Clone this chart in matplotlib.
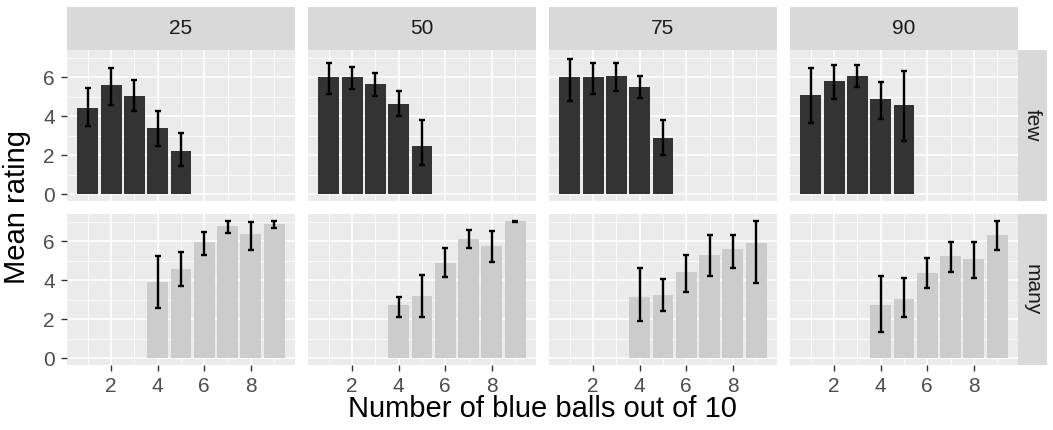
import numpy as np
import matplotlib
matplotlib.use("Agg")
import matplotlib.pyplot as plt

plt.rcParams['font.family'] = ['Liberation Sans', 'DejaVu Sans']

# -------------------- DATA --------------------
percents = ["25", "50", "75", "90"]
groups = ["few", "many"]

x_few = [1, 2, 3, 4, 5]
x_many = [4, 5, 6, 7, 8, 9]

# mean rating, lower and upper error bar, per percent column
few_mean = {
    "25": [4.43, 5.61, 5.04, 3.40, 2.22],
    "50": [6.02, 6.02, 5.68, 4.63, 2.48],
    "75": [6.02, 6.02, 6.07, 5.50, 2.89],
    "90": [5.09, 5.81, 6.07, 4.89, 4.58],
}
few_lo = {
    "25": [3.50, 4.60, 4.29, 2.48, 1.45],
    "50": [5.16, 5.40, 5.06, 4.00, 1.49],
    "75": [4.80, 5.16, 5.32, 4.92, 2.00],
    "90": [3.64, 4.91, 5.50, 3.86, 2.74],
}
few_hi = {
    "25": [5.44, 6.48, 5.85, 4.29, 3.13],
    "50": [6.77, 6.56, 6.22, 5.28, 3.79],
    "75": [6.94, 6.75, 6.72, 6.10, 3.83],
    "90": [6.51, 6.62, 6.62, 5.79, 6.32],
}
many_mean = {
    "25": [3.90, 4.56, 5.95, 6.82, 6.36, 6.92],
    "50": [2.72, 3.18, 4.87, 6.15, 5.79, 7.04],
    "75": [3.13, 3.23, 4.41, 5.28, 5.59, 5.90],
    "90": [2.72, 3.03, 4.36, 5.23, 5.08, 6.31],
}
many_lo = {
    "25": [2.56, 3.69, 5.33, 6.44, 5.54, 6.70],
    "50": [2.14, 2.09, 4.17, 5.66, 4.96, 7.01],
    "75": [1.91, 2.43, 3.42, 4.22, 4.63, 3.85],
    "90": [1.35, 2.09, 3.61, 4.43, 4.14, 5.57],
}
many_hi = {
    "25": [5.25, 5.47, 6.50, 7.06, 6.99, 7.06],
    "50": [3.15, 4.26, 5.66, 6.60, 6.55, 7.04],
    "75": [4.65, 4.09, 5.33, 6.31, 6.34, 7.06],
    "90": [4.22, 4.12, 5.15, 5.98, 5.98, 7.06],
}

# -------------------- LAYOUT (pixels) --------------------
W, H = 1053, 430
col_left = [67, 308, 549, 790]
panel_w = 228
row_top = [50, 214]
panel_h = 151
strip_top = 7
strip_right_w = 29

fig = plt.figure(figsize=(W / 100, H / 100), dpi=100)

def px_axes(left, top, width, height):
    return fig.add_axes([left / W, 1 - (top + height) / H, width / W, height / H])

xlim = (0.105, 9.895)
ylim = (-0.353, 7.413)

for r, grp in enumerate(groups):
    for c, pct in enumerate(percents):
        ax = px_axes(col_left[c], row_top[r], panel_w, panel_h)
        ax.set_facecolor("#EBEBEB")
        for s in ax.spines.values():
            s.set_visible(False)
        ax.set_xlim(*xlim)
        ax.set_ylim(*ylim)
        ax.set_xticks([2, 4, 6, 8])
        ax.set_yticks([0, 2, 4, 6])
        ax.set_xticks([1, 3, 5, 7, 9], minor=True)
        ax.set_yticks([1, 3, 5, 7], minor=True)
        ax.grid(which="major", color="white", lw=1.2)
        ax.grid(which="minor", color="white", lw=0.6)
        ax.set_axisbelow(True)
        ax.tick_params(which="minor", length=0)
        ax.tick_params(which="major", length=4.3, width=1, color="#333333",
                       labelsize=15, labelcolor="#4D4D4D", pad=4.5)

        if grp == "few":
            xs, m, lo, hi, col = x_few, few_mean[pct], few_lo[pct], few_hi[pct], "#333333"
        else:
            xs, m, lo, hi, col = x_many, many_mean[pct], many_lo[pct], many_hi[pct], "#CCCCCC"
        m = np.array(m)
        ax.bar(xs, m, width=0.9, color=col, zorder=2)
        ax.errorbar(xs, m, yerr=[m - np.array(lo), np.array(hi) - m], fmt="none",
                    ecolor="black", elinewidth=1.7, capsize=2.4, capthick=1.7, zorder=3)

        if r == 0:
            ax.tick_params(axis="x", labelbottom=False, length=0)
        if c > 0:
            ax.tick_params(axis="y", labelleft=False, length=0)

        # top strips
        if r == 0:
            sax = px_axes(col_left[c], strip_top, panel_w, row_top[0] - strip_top)
            sax.set_facecolor("#D9D9D9")
            sax.set_xticks([]); sax.set_yticks([])
            for s in sax.spines.values():
                s.set_visible(False)
            sax.text(0.5, 0.5, pct, ha="center", va="center", fontsize=15, color="#1A1A1A",
                     transform=sax.transAxes)

    # right strips
    rax = px_axes(col_left[-1] + panel_w, row_top[r], strip_right_w, panel_h)
    rax.set_facecolor("#D9D9D9")
    rax.set_xticks([]); rax.set_yticks([])
    for s in rax.spines.values():
        s.set_visible(False)
    rax.text(0.5, 0.5, grp, ha="center", va="center", rotation=-90, fontsize=15,
             color="#1A1A1A", transform=rax.transAxes)

# axis titles
fig.text((col_left[0] + col_left[-1] + panel_w) / 2 / W, 1 - 409 / H,
         "Number of blue balls out of 10", ha="center", va="center", fontsize=21)
fig.text(17 / W, 1 - (row_top[0] + row_top[1] + panel_h) / 2 / H,
         "Mean rating", ha="center", va="center", rotation=90, fontsize=21)

fig.savefig("out.png", dpi=100)
